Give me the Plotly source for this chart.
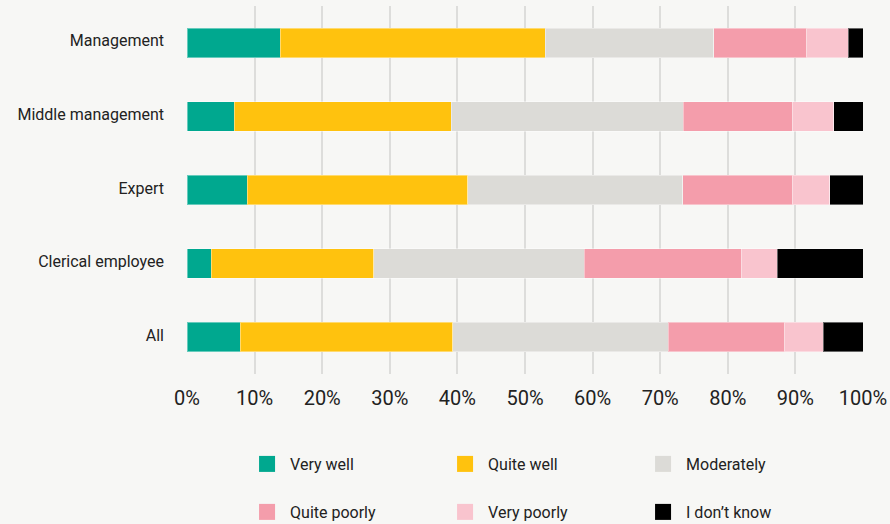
import plotly.graph_objects as go

# Survey groups, top to bottom
categories = ["Management", "Middle management", "Expert", "Clerical employee", "All"]

# Share of answers per group (%)
series_names = ["Very well", "Quite well", "Moderately", "Quite poorly", "Very poorly", "I don’t know"]
very_well = [13.8, 7.0, 8.9, 3.6, 7.9]
quite_well = [39.2, 32.1, 32.6, 24.0, 31.4]
moderately = [24.9, 34.3, 31.8, 31.2, 31.9]
quite_poorly = [13.8, 16.1, 16.2, 23.2, 17.2]
very_poorly = [6.1, 6.2, 5.6, 5.3, 5.7]
dont_know = [2.2, 4.3, 4.9, 12.7, 5.9]

x_ticks = list(range(0, 101, 10))
x_tick_labels = [f"{v}%" for v in x_ticks]

colors = ["#00a88f", "#ffc20e", "#dcdbd7", "#f49dab", "#f9c4ce", "#000000"]
values = [very_well, quite_well, moderately, quite_poorly, very_poorly, dont_know]

BG = "#f7f7f5"
FONT = "Roboto"
TEXT = "#222222"

fig = go.Figure()

for name, vals, col in zip(series_names, values, colors):
    fig.add_trace(go.Bar(
        y=categories, x=vals, name=name, orientation="h",
        marker=dict(color=col, line=dict(color="rgba(255,255,255,0.4)", width=1)),
        width=0.4, showlegend=False, legendgroup=name,
        hovertemplate="%{y}: %{x:.1f}%<extra>" + name + "</extra>",
    ))

# Legend entries: first three in the upper row, the rest in the lower row
for i, (name, col) in enumerate(zip(series_names, colors)):
    fig.add_trace(go.Scatter(
        x=[None], y=[None], mode="markers", name=name, legendgroup=name,
        marker=dict(symbol="square", size=18, color=col),
        legend="legend" if i < 3 else "legend2", hoverinfo="skip",
    ))

legend_common = dict(
    orientation="h", xanchor="left", yanchor="middle",
    font=dict(family=FONT, size=16, color=TEXT),
    bgcolor="rgba(0,0,0,0)", entrywidth=147, entrywidthmode="pixels",
    itemwidth=36, itemclick="toggleothers",
)

fig.update_layout(
    width=890, height=524,
    margin=dict(l=187, r=27, t=6, b=150, autoexpand=False),
    paper_bgcolor=BG, plot_bgcolor=BG,
    barmode="stack",
    font=dict(family=FONT, color=TEXT),
    legend=dict(x=0.0844, y=-0.2446, **legend_common),
    legend2=dict(x=0.0844, y=-0.375, **legend_common),
    xaxis=dict(
        range=[0, 100], tickmode="array", tickvals=x_ticks, ticktext=x_tick_labels,
        showgrid=True, gridcolor="#dddddb", gridwidth=2,
        zeroline=False, showline=False,
        tickfont=dict(family=FONT, size=20, color=TEXT),
        ticklabelstandoff=10, fixedrange=True,
    ),
    yaxis=dict(
        categoryorder="array", categoryarray=categories[::-1],
        range=[-0.5, 4.5], showgrid=False, zeroline=False, showline=False,
        tickfont=dict(family=FONT, size=16, color=TEXT),
        ticklabelstandoff=22, ticklabelshift=-2, fixedrange=True,
    ),
)

fig.write_html("out.html")
